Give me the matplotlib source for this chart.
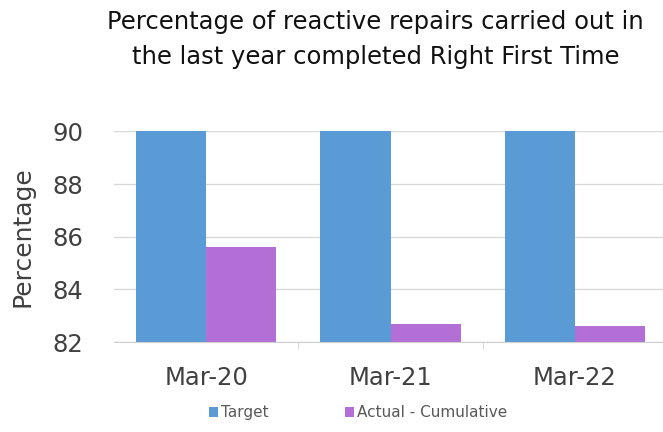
import matplotlib.pyplot as plt
import numpy as np

categories = ["Mar-20", "Mar-21", "Mar-22"]
target = [90, 90, 90]
actual = [85.6, 82.7, 82.6]

fig = plt.figure(figsize=(6.63, 4.32), dpi=100)
ax = fig.add_axes([0.172, 0.208, 0.834, 0.488])

x = np.arange(len(categories))
w = 0.38
ax.bar(x - w / 2, target, w, color="#5b9bd5", label="Target", zorder=3)
ax.bar(x + w / 2, actual, w, color="#b36fd6", label="Actual - Cumulative", zorder=3)

ax.set_ylim(82, 90)
ax.set_xlim(-0.5, 2.5)
ax.set_yticks([82, 84, 86, 88, 90])
ax.set_xticks(x)
ax.set_xticklabels(categories)
ax.set_xticks([0.5, 1.5], minor=True)
ax.tick_params(axis="x", which="major", length=0, labelsize=17.5, colors="#404040", pad=17)
ax.tick_params(axis="x", which="minor", length=5, color="#d0d0d0")
ax.tick_params(axis="y", length=0, labelsize=17.5, colors="#404040", pad=22)
ax.grid(axis="y", color="#d9d9d9", lw=1, zorder=0)
for s in ["top", "right", "left"]:
    ax.spines[s].set_visible(False)
ax.spines["bottom"].set_color("#d0d0d0")
ax.spines["bottom"].set_zorder(4)

ax.set_ylabel("Percentage", fontsize=18, color="#404040", labelpad=13)

fig.text(0.566, 0.909, "Percentage of reactive repairs carried out in\nthe last year completed Right First Time",
         ha="center", va="center", fontsize=17.5, color="#111111", linespacing=1.55)

fig.legend(loc="center", bbox_to_anchor=(0.54, 0.044), ncol=2, frameon=False,
           fontsize=11, handlelength=0.6, handleheight=0.6, columnspacing=5.0,
           handletextpad=0.2, labelcolor="#595959")

fig.savefig("out.png", dpi=100)
